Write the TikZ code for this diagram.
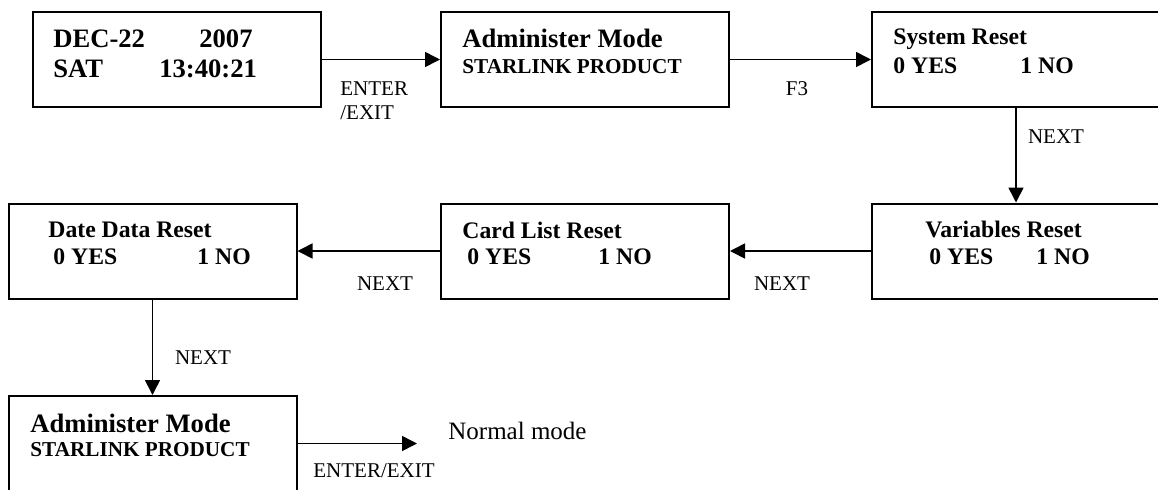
\documentclass[tikz,border=0pt]{standalone}
\usepackage{fontspec}
\setmainfont{Liberation Serif}
\usetikzlibrary{arrows.meta}

\tikzset{
	screen/.style={draw, line width=1pt, minimum width=144pt, minimum height=47.5pt, inner sep=0pt},
	boxtext/.style={anchor=base west, inner sep=0pt, font=\fontsize{11.85}{14}\selectfont\bfseries},
	bigtext/.style={boxtext, font=\fontsize{13.3}{16}\selectfont\bfseries},
	smalltext/.style={boxtext, font=\fontsize{10.6}{12}\selectfont\bfseries},
	keylabel/.style={inner sep=0pt, font=\fontsize{10.5}{12}\selectfont},
	flow/.style={line width=0.8pt, -{Triangle[length=7.5pt,width=7.5pt]}}
}

\begin{document}
\begin{tikzpicture}[x=0.5pt, y=-0.5pt]
		%%%%% START %%%%%
		\useasboundingbox (0,0) rectangle (1158,489);
		
		% screens
		\node[screen] (clock) at (177,59.5) {};
		\node[screen] (admin) at (585,59.5) {};
		\node[screen] (sysreset) at (1016,59.5) {};
		\node[screen] (varreset) at (1016,251) {};
		\node[screen] (cardreset) at (585,251) {};
		\node[screen] (datereset) at (152.5,251) {};
		\node[screen] (adminend) at (152.5,443.5) {};
		
		% screen texts
		\node[bigtext] (clockA) at (53,47) {\makebox[73pt][l]{DEC-22}2007};
		\node[bigtext] (clockB) at (53,77) {\makebox[53pt][l]{SAT}13:40:21};
		\node[bigtext] (adminA) at (462,47) {Administer Mode};
		\node[smalltext] (adminB) at (462,73) {STARLINK PRODUCT};
		\node[boxtext] (sysA) at (893,44) {System Reset};
		\node[boxtext] (sysB) at (893,73) {\makebox[63.5pt][l]{0 YES}1 NO};
		\node[boxtext] (varA) at (925,237) {Variables Reset};
		\node[boxtext] (varB) at (929,264) {\makebox[53.5pt][l]{0 YES}1 NO};
		\node[boxtext] (cardA) at (462,238) {Card List Reset};
		\node[boxtext] (cardB) at (467,264) {\makebox[65.5pt][l]{0 YES}1 NO};
		\node[boxtext] (dateA) at (48,237) {Date Data Reset};
		\node[boxtext] (dateB) at (53,264) {\makebox[72pt][l]{0 YES}1 NO};
		\node[bigtext] (endA) at (30,432) {Administer Mode};
		\node[smalltext] (endB) at (30,456) {STARLINK PRODUCT};
		
		% connectors
		\draw[flow] (clock) -- (admin);
		\draw[flow] (admin) -- (sysreset);
		\draw[flow] (sysreset) -- (varreset);
		\draw[flow] (varreset) -- (cardreset);
		\draw[flow] (cardreset) -- (datereset);
		\draw[flow] (datereset) -- (adminend);
		\coordinate (exitpt) at (417,443.5);
		\draw[flow] (adminend) -- (exitpt);
		\node[anchor=base west, inner sep=0pt, font=\fontsize{12.5}{15}\selectfont] (normal) at (448,439) {Normal mode};
		
		% key labels
		\node[keylabel, anchor=north west, align=left] (enterlbl) at (340,81) {ENTER\\/EXIT};
		\node[keylabel] (f3lbl) at (797,89) {F3};
		\node[keylabel] (next1) at (1056,137) {NEXT};
		\node[keylabel] (next2) at (782,284) {NEXT};
		\node[keylabel] (next3) at (385,284) {NEXT};
		\node[keylabel] (next4) at (203,358) {NEXT};
		\node[keylabel] (exitlbl) at (374,471) {ENTER/EXIT};
		
		%%%%% END %%%%%
\end{tikzpicture}
\end{document}
